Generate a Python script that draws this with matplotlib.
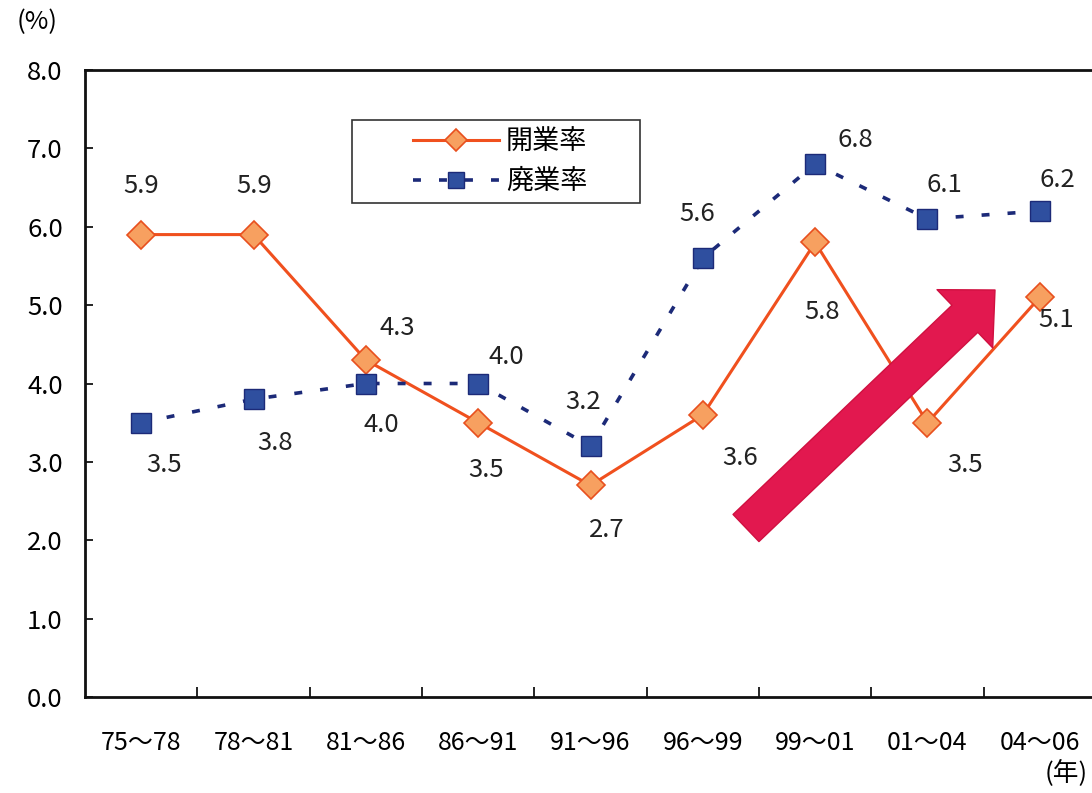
import matplotlib
matplotlib.use("Agg")
import matplotlib.pyplot as plt
import matplotlib.patches as patches

plt.rcParams['font.family'] = ['Noto Sans CJK JP', 'DejaVu Sans']

# data
periods = ["75～78", "78～81", "81～86", "86～91", "91～96", "96～99", "99～01", "01～04", "04～06"]
kaigyo = [5.9, 5.9, 4.3, 3.5, 2.7, 3.6, 5.8, 3.5, 5.1]
haigyo = [3.5, 3.8, 4.0, 4.0, 3.2, 5.6, 6.8, 6.1, 6.2]
yticks = [0, 1, 2, 3, 4, 5, 6, 7, 8]

# label offsets in pixels (dx right, dy down) relative to each marker
kaigyo_off = [(0, -49), (1, -49), (31, -32), (8, 47), (16, 45), (37, 43), (7, 70), (38, 42), (16, 23)]
haigyo_off = [(23, 42), (22, 44), (15, 42), (28, -27), (-7, -44), (-6, -44), (40, -24), (17, -34), (18, -31)]

W, H = 1092, 793
fig = plt.figure(figsize=(W / 100, H / 100), dpi=100)
fig.set_facecolor("white")
ax = fig.add_axes([85 / W, 96 / H, 1011 / W, 627 / H])

x = list(range(len(periods)))
ax.plot(x, kaigyo, color="#f0501e", lw=2.2, marker="D", ms=14,
        mfc="#f7a060", mec="#e8501e", mew=1.2, label="開業率", zorder=3)
ax.plot(x, haigyo, color="#1c2a78", lw=2.6, linestyle=(0, (2.2, 5.0)),
        marker="s", ms=14, mfc="#2f4f9f", mec="#1c2a78", mew=1.0, label="廃業率", zorder=3)


def addLabels(ax, xs, ys, offsets):
    for xi, yi, (dx, dy) in zip(xs, ys, offsets):
        ax.annotate("%.1f" % yi, xy=(xi, yi), xytext=(dx * 0.72, -dy * 0.72),
                    textcoords="offset points", ha="center", va="center",
                    fontsize=18.5, color="#222222", zorder=5)


addLabels(ax, x, kaigyo, kaigyo_off)
addLabels(ax, x, haigyo, haigyo_off)

ax.set_xlim(-0.5, len(periods) - 0.5)
ax.set_ylim(0, 8)
ax.set_yticks(yticks)
ax.set_yticklabels(["%.1f" % v for v in yticks], fontsize=18.5)
ax.set_xticks(x)
ax.set_xticklabels(periods, fontsize=18)
ax.set_xticks([i + 0.5 for i in x[:-1]], minor=True)
ax.tick_params(axis="x", which="major", length=0, pad=24)
ax.tick_params(axis="x", which="minor", direction="in", length=7, width=1.2)
ax.tick_params(axis="y", direction="in", length=6, width=1.2, pad=16)

for s in ["left", "top", "bottom"]:
    ax.spines[s].set_linewidth(2)
    ax.spines[s].set_color("#111111")
ax.spines["right"].set_visible(False)

# legend: box drawn separately so it can be wider than its contents
box = patches.Rectangle((352, H - 203), 288, 83, transform=None, fill=True,
                        fc="white", ec="#333333", lw=1.2, zorder=6)
fig.patches.append(box)
leg = fig.legend(*ax.get_legend_handles_labels(), loc="center",
                 bbox_to_anchor=(500 / W, 1 - 162 / H), fontsize=19.5,
                 frameon=False, handlelength=3.2, borderpad=0, labelspacing=0.45,
                 handletextpad=0.25, markerscale=0.8)
leg.set_zorder(7)

# big red trend arrow
ax.annotate("", xy=(995, H - 290), xytext=(746, H - 528),
            xycoords="figure pixels", textcoords="figure pixels",
            arrowprops=dict(arrowstyle="simple,head_length=30,head_width=58,tail_width=27",
                            mutation_scale=1, fc="#e2184f", ec="#d01040",
                            shrinkA=0, shrinkB=0), zorder=4)

fig.text(37 / W, 1 - 22 / H, "(%)", fontsize=18.5, ha="center", va="center")
fig.text(1066 / W, 1 - 773 / H, "(年)", fontsize=18.5, ha="center", va="center")

fig.savefig("out.png", dpi=100, facecolor="white")
